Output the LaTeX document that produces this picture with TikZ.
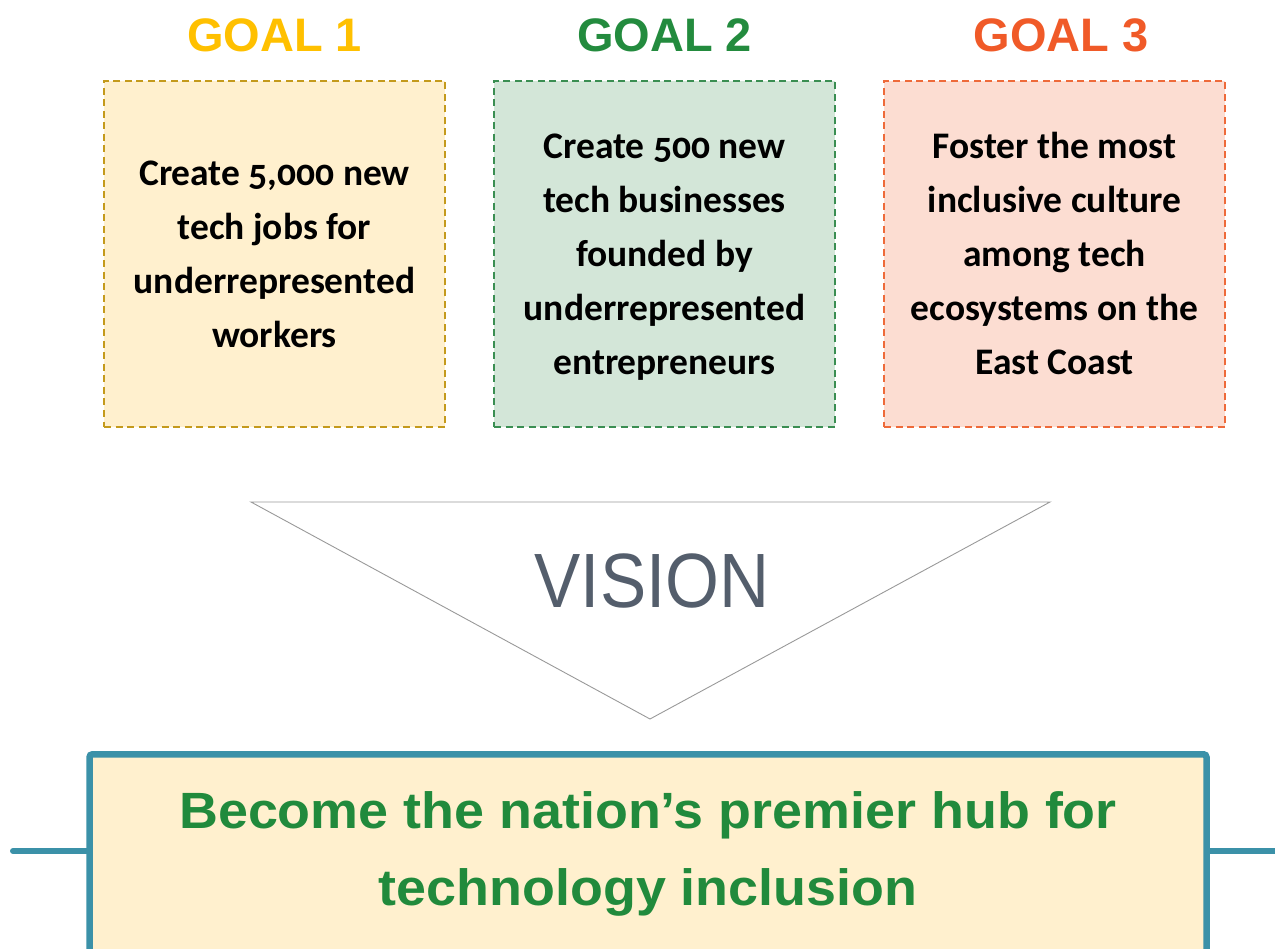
\documentclass[tikz,border=0pt]{standalone}
\usepackage{fontspec}
\setmainfont{Liberation Sans}
\newfontfamily\boxfont[Numbers=OldStyle]{Carlito}
\usetikzlibrary{calc}
\definecolor{gOne}{HTML}{FFC000}
\definecolor{gTwo}{HTML}{238B3E}
\definecolor{gThree}{HTML}{F05A28}
\definecolor{bdOne}{HTML}{C49A1C}
\definecolor{fOne}{HTML}{FFF0CE}
\definecolor{bdTwo}{HTML}{3A8E52}
\definecolor{fTwo}{HTML}{D3E6D8}
\definecolor{bdThree}{HTML}{EE6A3A}
\definecolor{fThree}{HTML}{FCDDD2}
\definecolor{teal}{HTML}{3B91A8}
\definecolor{visgray}{HTML}{545E6C}
\definecolor{hubgreen}{HTML}{218A3C}
\tikzset{
  goaltitle/.style={font=\fontsize{47}{50}\selectfont\bfseries, anchor=base, inner sep=0pt},
  goalbox/.style={draw, dashed, dash pattern=on 7pt off 4.5pt, line width=2pt,
     minimum width=341pt, minimum height=346pt, inner sep=0pt},
  goaltext/.style={align=center, inner sep=0pt,
     font=\boxfont\bfseries\fontsize{37.5}{54}\selectfont},
  hubbox/.style={draw=teal, line width=6.5pt, fill=fOne, rounded corners=3pt,
     minimum width=1117pt, minimum height=260pt, inner sep=0pt},
  sideline/.style={draw=teal, line width=6pt, line cap=round}
}
\begin{document}
\begin{tikzpicture}[x=1pt,y=-1pt]
\useasboundingbox (0,0) rectangle (1275,949);
% goal titles
\node[goaltitle, text=gOne]   (t1) at (274.5,52) {GOAL 1};
\node[goaltitle, text=gTwo]   (t2) at (664.5,52) {GOAL 2};
\node[goaltitle, text=gThree] (t3) at (1061,52) {GOAL 3};
% goal boxes
\node[goalbox, draw=bdOne, fill=fOne] (b1) at (274.5,254) {};
\node[goalbox, draw=bdTwo, fill=fTwo] (b2) at (664.5,254) {};
\node[goalbox, draw=bdThree, fill=fThree] (b3) at (1054.5,254) {};
\node[goaltext, anchor=base] (x1) at (274.5,348)
  {Create 5,000 new\\tech jobs for\\underrepresented\\workers};
\node[goaltext, anchor=base] (x2) at (664.5,375)
  {Create 500 new\\tech businesses\\founded by\\underrepresented\\entrepreneurs};
\node[goaltext, anchor=base] (x3) at (1054.5,375)
  {Foster the most\\inclusive culture\\among tech\\ecosystems on the\\East Coast};
% vision triangle
\coordinate (vl) at (251,502);
\coordinate (vr) at (1050,502);
\coordinate (vb) at (650,719);
\draw[color=black!40, line width=0.9pt, line join=miter] (vl) -- (vr) -- (vb) -- cycle;
\node[inner sep=0pt, anchor=base, text=visgray] (vis) at (652,607)
  {\scalebox{0.9}[1]{\fontsize{77}{80}\selectfont VISION}};
% hub box
\node[hubbox, anchor=north] (hub) at (648,751) {};
\node[inner sep=0pt, align=center, text=hubgreen, anchor=base,
      font=\bfseries\fontsize{51}{77}\selectfont] (hubtext) at (648,905)
  {\scalebox{1.056}[1]{Become the nation’s premier hub for}\\\scalebox{1.056}[1]{technology inclusion}};
\coordinate (lL) at (13,851);
\coordinate (lR) at (1280,851);
\draw[sideline] (lL) -- (lL -| hub.west);
\draw[sideline, line cap=butt] (hub.east |- lR) -- (lR);
\end{tikzpicture}
\end{document}
